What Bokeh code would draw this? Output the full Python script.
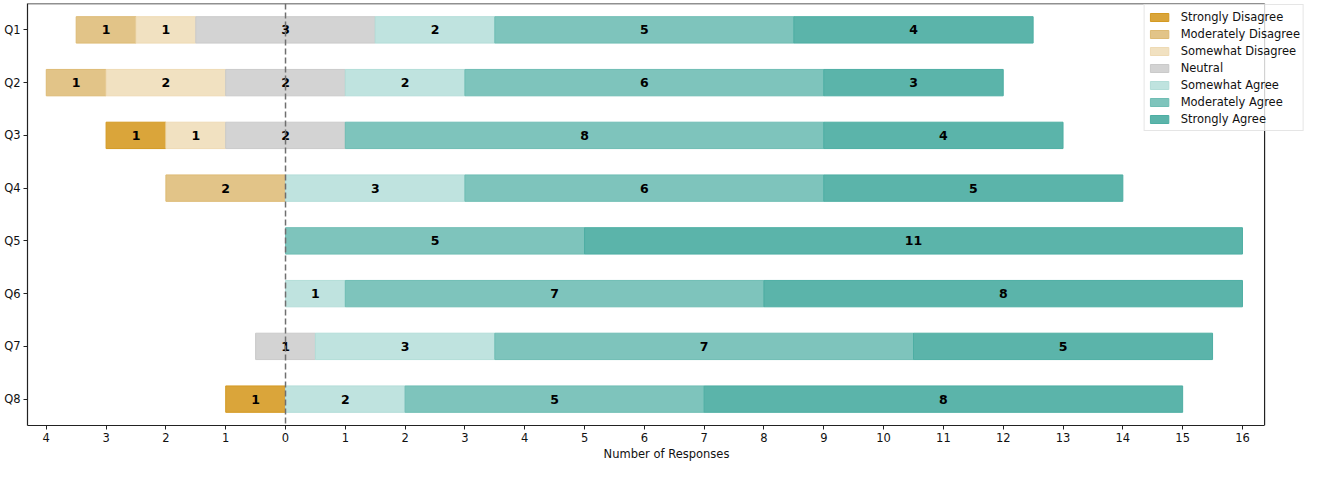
from bokeh.plotting import figure
from bokeh.models import Range1d, FactorRange, FixedTicker, Span, Legend, LegendItem, ColumnDataSource
from bokeh.core.properties import value
from bokeh.embed import file_html
from bokeh.resources import INLINE

questions = ["Q1", "Q2", "Q3", "Q4", "Q5", "Q6", "Q7", "Q8"]
categories = ["Strongly Disagree", "Moderately Disagree", "Somewhat Disagree", "Neutral",
              "Somewhat Agree", "Moderately Agree", "Strongly Agree"]
strongly_disagree = [0, 0, 1, 0, 0, 0, 0, 1]
moderately_disagree = [1, 1, 0, 2, 0, 0, 0, 0]
somewhat_disagree = [1, 2, 1, 0, 0, 0, 0, 0]
neutral = [3, 2, 2, 0, 0, 0, 1, 0]
somewhat_agree = [2, 2, 0, 3, 0, 1, 3, 2]
moderately_agree = [5, 6, 8, 6, 5, 7, 7, 5]
strongly_agree = [4, 3, 4, 5, 11, 8, 5, 8]
series = [strongly_disagree, moderately_disagree, somewhat_disagree, neutral,
          somewhat_agree, moderately_agree, strongly_agree]
tick_values = list(range(-4, 17))
tick_labels = [str(abs(t)) for t in tick_values]

fills = ["#DAA53A", "#E2C488", "#F1E1C1", "#D3D3D3", "#BFE3DF", "#7EC4BC", "#5BB4AA"]
lines = ["#D49A22", "#DDBA74", "#EEDAB4", "#CACACA", "#B3DDD8", "#6FBDB4", "#4DAEA3"]

X_LO, X_HI, X_VIEW = -4.314, 16.37, 17.054

p = figure(width=1307, height=463,
           y_range=FactorRange(factors=list(reversed(questions))),
           x_range=Range1d(X_LO, X_VIEW),
           output_backend="svg", toolbar_location=None,
           min_border_left=27, min_border_right=2, min_border_top=3, min_border_bottom=20)

starts = [-(a + b + c + n / 2) for a, b, c, n in zip(strongly_disagree, moderately_disagree, somewhat_disagree, neutral)]
cum = list(starts)
items = []
lx, ly, lt = [], [], []
for cat, vals, fc, lc in zip(categories, series, fills, lines):
    qs, lefts, rights = [], [], []
    for i, v in enumerate(vals):
        if v > 0:
            qs.append(questions[i])
            lefts.append(cum[i])
            rights.append(cum[i] + v)
            lx.append(cum[i] + v / 2)
            ly.append(questions[i])
            lt.append(str(v))
        cum[i] += v
    src = ColumnDataSource(dict(q=qs, left=lefts, right=rights))
    r = p.hbar(y="q", left="left", right="right", height=0.5, source=src,
               fill_color=fc, line_color=lc, line_width=1)
    items.append(LegendItem(label=cat, renderers=[r]))

p.add_layout(Span(location=0, dimension="height", line_color="#6f6f6f",
                  line_dash="6 3", line_width=1.5))

lsrc = ColumnDataSource(dict(x=lx, y=ly, t=lt))
p.text(x="x", y="y", text="t", source=lsrc, text_font=value("DejaVu Sans"),
       text_font_style="bold", text_font_size="12.5px", text_align="center",
       text_baseline="middle", text_color="black")

# frame border (top and right) limited to the data area
top = (questions[0], 0.497)
bottom = (questions[-1], -0.5)
fsrc = ColumnDataSource(dict(x0=[X_LO, X_HI], x1=[X_HI, X_HI], y0=[top, bottom], y1=[top, top]))
p.segment(x0="x0", y0="y0", x1="x1", y1="y1", source=fsrc,
          line_color="#222222", line_width=1.2)

p.xgrid.visible = False
p.ygrid.visible = False
p.outline_line_color = None

p.xaxis.ticker = FixedTicker(ticks=tick_values)
p.xaxis.major_label_overrides = {t: l for t, l in zip(tick_values, tick_labels)}
p.xaxis.bounds = (X_LO, X_HI)
p.xaxis.axis_label = "Number of Responses"
p.xaxis.axis_label_text_font_style = "normal"
for ax in [p.xaxis, p.yaxis]:
    ax.axis_label_text_font = "DejaVu Sans"
    ax.axis_label_text_font_size = "11.5px"
    ax.axis_label_text_color = "#111111"
    ax.major_label_text_font = "DejaVu Sans"
    ax.major_label_text_font_size = "11.5px"
    ax.major_label_text_color = "#111111"
    ax.axis_line_color = "#222222"
    ax.axis_line_width = 1.2
    ax.major_tick_line_color = "#222222"
    ax.minor_tick_line_color = None
    ax.major_tick_out = 4
    ax.major_tick_in = 0
    ax.major_label_standoff = 3
p.xaxis.axis_label_standoff = 2

legend = Legend(items=items, location="top_right")
legend.label_text_font = "DejaVu Sans"
legend.label_text_font_size = "11.5px"
legend.label_text_color = "#111111"
legend.glyph_width = 23
legend.glyph_height = 10
legend.label_height = 17
legend.spacing = 0
legend.padding = 3
legend.margin = 1
legend.label_standoff = 10
legend.border_line_color = "#cccccc"
legend.background_fill_alpha = 0.8
p.add_layout(legend)

open("out.html", "w").write(file_html(p, INLINE))
